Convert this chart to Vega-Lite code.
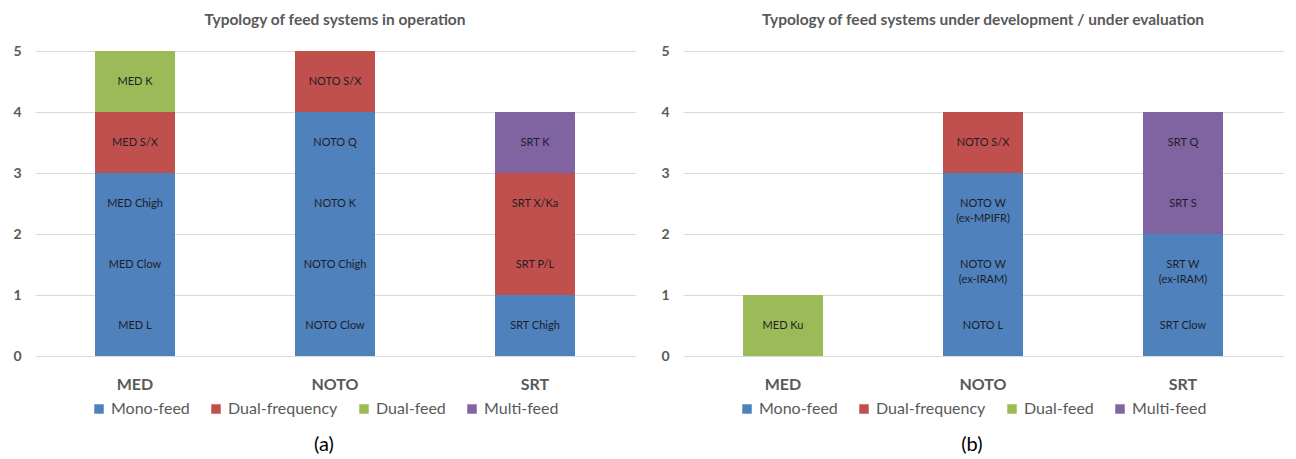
{
  "$schema": "https://vega.github.io/schema/vega-lite/v6.json",
  "padding": {"left": 12, "top": 12, "right": 5, "bottom": 5},
  "background": "white",
  "config": {
    "font": "Lato",
    "view": {"stroke": null},
    "axisY": {"grid": true, "gridColor": "#d9d9d9", "domain": false, "ticks": false, "labelFontWeight": "bold", "labelFontSize": 14, "labelColor": "#595959", "labelPadding": 14, "title": null},
    "axisX": {"labelAngle": 0, "domain": false, "ticks": false, "grid": false, "labelFontSize": 16, "labelFontWeight": "bold", "labelColor": "#595959", "labelPadding": 20, "title": null},
    "legend": {"title": null, "symbolType": "square", "symbolSize": 90, "symbolStrokeWidth": 0, "labelFontSize": 16, "labelColor": "#595959", "columnPadding": 18}
  },
  "datasets": {
    "a": [
      {"site": "MED", "type": "Mono-feed", "label": "MED L", "rank": 1, "n": 1},
      {"site": "MED", "type": "Mono-feed", "label": "MED Clow", "rank": 2, "n": 1},
      {"site": "MED", "type": "Mono-feed", "label": "MED Chigh", "rank": 3, "n": 1},
      {"site": "MED", "type": "Dual-frequency", "label": "MED S/X", "rank": 4, "n": 1},
      {"site": "MED", "type": "Dual-feed", "label": "MED K", "rank": 5, "n": 1},
      {"site": "NOTO", "type": "Mono-feed", "label": "NOTO Clow", "rank": 1, "n": 1},
      {"site": "NOTO", "type": "Mono-feed", "label": "NOTO Chigh", "rank": 2, "n": 1},
      {"site": "NOTO", "type": "Mono-feed", "label": "NOTO K", "rank": 3, "n": 1},
      {"site": "NOTO", "type": "Mono-feed", "label": "NOTO Q", "rank": 4, "n": 1},
      {"site": "NOTO", "type": "Dual-frequency", "label": "NOTO S/X", "rank": 5, "n": 1},
      {"site": "SRT", "type": "Mono-feed", "label": "SRT Chigh", "rank": 1, "n": 1},
      {"site": "SRT", "type": "Dual-frequency", "label": "SRT P/L", "rank": 2, "n": 1},
      {"site": "SRT", "type": "Dual-frequency", "label": "SRT X/Ka", "rank": 3, "n": 1},
      {"site": "SRT", "type": "Multi-feed", "label": "SRT K", "rank": 4, "n": 1}
    ],
    "b": [
      {"site": "MED", "type": "Dual-feed", "label": "MED Ku", "rank": 1, "n": 1},
      {"site": "NOTO", "type": "Mono-feed", "label": "NOTO L", "rank": 1, "n": 1},
      {"site": "NOTO", "type": "Mono-feed", "label": "NOTO W\n(ex-IRAM)", "rank": 2, "n": 1},
      {"site": "NOTO", "type": "Mono-feed", "label": "NOTO W\n(ex-MPIFR)", "rank": 3, "n": 1},
      {"site": "NOTO", "type": "Dual-frequency", "label": "NOTO S/X", "rank": 4, "n": 1},
      {"site": "SRT", "type": "Mono-feed", "label": "SRT Clow", "rank": 1, "n": 1},
      {"site": "SRT", "type": "Mono-feed", "label": "SRT W\n(ex-IRAM)", "rank": 2, "n": 1},
      {"site": "SRT", "type": "Multi-feed", "label": "SRT S", "rank": 3, "n": 1},
      {"site": "SRT", "type": "Multi-feed", "label": "SRT Q", "rank": 4, "n": 1}
    ]
  },
  "spacing": 25,
  "resolve": {"scale": {"color": "independent", "y": "independent", "x": "independent"}, "legend": {"color": "independent"}},
  "hconcat": [
    {
      "title": {"text": "(a)", "orient": "bottom", "anchor": "middle", "fontSize": 20, "fontWeight": "normal", "color": "#000000", "offset": 18},
      "vconcat": [
        {
          "data": {"name": "a"},
          "title": {"text": "Typology of feed systems in operation", "anchor": "middle", "fontSize": 15.5, "fontWeight": "bold", "color": "#595959", "offset": 16},
          "width": 600,
          "height": 305,
          "encoding": {
            "x": {"field": "site", "type": "nominal", "sort": ["MED", "NOTO", "SRT"], "scale": {"paddingInner": 0.6, "paddingOuter": 0.3}},
            "y": {"field": "n", "type": "quantitative", "stack": "zero", "scale": {"domain": [0, 5], "nice": false}, "axis": {"values": [0, 1, 2, 3, 4, 5], "format": "d"}},
            "order": {"field": "rank", "type": "quantitative"},
            "detail": {"field": "label"}
          },
          "layer": [
            {"mark": {"type": "bar"}, "encoding": {"color": {"field": "type", "type": "nominal", "scale": {"domain": ["Mono-feed", "Dual-frequency", "Dual-feed", "Multi-feed"], "range": ["#4f81bd", "#c0504d", "#9bbb59", "#8064a2"]}, "legend": {"orient": "none", "direction": "horizontal", "legendX": 56, "legendY": 350}}}},
            {"mark": {"type": "text", "dy": 30.5, "baseline": "middle", "align": "center", "fontSize": 11, "color": "#1e1e28", "lineBreak": "\n", "lineHeight": 15}, "encoding": {"text": {"field": "label"}}}
          ]
        }
      ]
    },
    {
      "title": {"text": "(b)", "orient": "bottom", "anchor": "middle", "fontSize": 20, "fontWeight": "normal", "color": "#000000", "offset": 18},
      "vconcat": [
        {
          "data": {"name": "b"},
          "title": {"text": "Typology of feed systems under development / under evaluation", "anchor": "middle", "fontSize": 15.5, "fontWeight": "bold", "color": "#595959", "offset": 16},
          "width": 600,
          "height": 305,
          "encoding": {
            "x": {"field": "site", "type": "nominal", "sort": ["MED", "NOTO", "SRT"], "scale": {"paddingInner": 0.6, "paddingOuter": 0.3}},
            "y": {"field": "n", "type": "quantitative", "stack": "zero", "scale": {"domain": [0, 5], "nice": false}, "axis": {"values": [0, 1, 2, 3, 4, 5], "format": "d"}},
            "order": {"field": "rank", "type": "quantitative"},
            "detail": {"field": "label"}
          },
          "layer": [
            {"mark": {"type": "bar"}, "encoding": {"color": {"field": "type", "type": "nominal", "scale": {"domain": ["Mono-feed", "Dual-frequency", "Dual-feed", "Multi-feed"], "range": ["#4f81bd", "#c0504d", "#9bbb59", "#8064a2"]}, "legend": {"orient": "none", "direction": "horizontal", "legendX": 56, "legendY": 350}}}},
            {"mark": {"type": "text", "dy": 30.5, "baseline": "middle", "align": "center", "fontSize": 11, "color": "#1e1e28", "lineBreak": "\n", "lineHeight": 15}, "encoding": {"text": {"field": "label"}}}
          ]
        }
      ]
    }
  ]
}
